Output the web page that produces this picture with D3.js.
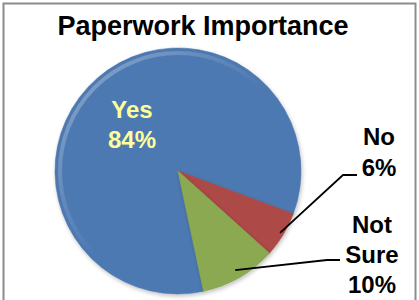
<!DOCTYPE html>
<html><head><meta charset="utf-8">
<script src="https://cdn.jsdelivr.net/npm/d3@7"></script>
<style>html,body{margin:0;padding:0;background:#fff;}svg{display:block;}</style>
</head><body>
<script>
const categories = ["Yes", "No", "Not Sure"];
const values = [84, 6, 10];
const labels = ["84%", "6%", "10%"];
const colors = ["#5789CA", "#C4544F", "#9CC05C"];
const title = "Paperwork Importance";

const W = 419, H = 300;
const svg = d3.select("body").append("svg").attr("width", W).attr("height", H);
svg.append("rect").attr("x", 3.5).attr("y", 3.5).attr("width", 412).attr("height", 310)
  .attr("fill", "#fff").attr("stroke", "#8c8c8c").attr("stroke-width", 2);

const font = "'Liberation Sans', Arial, sans-serif";
svg.append("text").attr("x", 203).attr("y", 35).attr("text-anchor", "middle")
  .attr("font-family", font).attr("font-weight", "bold")
  .attr("font-size", 27).attr("fill", "#000").text(title);

const cx = 178, cy = 171, R = 123;
const start = 168 * Math.PI / 180;
const pie = d3.pie().sort(null).startAngle(start).endAngle(start + 2 * Math.PI);
const arcs = pie(values);
const arc = d3.arc().innerRadius(0).outerRadius(R);

const defs = svg.append("defs");
function shade(c, k) { return d3.color(c).darker(k).formatHex(); }
function light(c, k) { return d3.color(c).brighter(k).formatHex(); }
colors.forEach((c, i) => {
  const g = defs.append("radialGradient").attr("id", "g" + i)
    .attr("gradientUnits", "userSpaceOnUse").attr("cx", cx).attr("cy", cy).attr("r", R);
  g.append("stop").attr("offset", "0%").attr("stop-color", shade(c, 0.15));
  g.append("stop").attr("offset", "10%").attr("stop-color", c);
  g.append("stop").attr("offset", "88%").attr("stop-color", c);
  g.append("stop").attr("offset", "94%").attr("stop-color", light(c, 0.3));
  g.append("stop").attr("offset", "100%").attr("stop-color", shade(c, 0.35));
});
const f = defs.append("filter").attr("id", "sh").attr("x", "-20%").attr("y", "-20%").attr("width", "140%").attr("height", "140%");
f.append("feGaussianBlur").attr("in", "SourceAlpha").attr("stdDeviation", 2);
f.append("feOffset").attr("dx", 1).attr("dy", 2).attr("result", "b");
f.append("feComponentTransfer").append("feFuncA").attr("type", "linear").attr("slope", 0.25);
const m = f.append("feMerge"); m.append("feMergeNode"); m.append("feMergeNode").attr("in", "SourceGraphic");

const gp = svg.append("g").attr("transform", `translate(${cx},${cy})`);
gp.selectAll("path.slice").data(arcs).join("path").attr("class", "slice")
  .attr("d", arc).attr("fill", (d, i) => `url(#g${i})`)
  .attr("stroke", (d, i) => shade(colors[i], 0.5)).attr("stroke-width", 0.6)
  .attr("filter", "url(#sh)");
const hl = defs.append("linearGradient").attr("id", "hl").attr("x1", "0").attr("y1", "0").attr("x2", "1").attr("y2", "1");
hl.append("stop").attr("offset", "0%").attr("stop-color", "#fff").attr("stop-opacity", 0.35);
hl.append("stop").attr("offset", "50%").attr("stop-color", "#fff").attr("stop-opacity", 0);
gp.append("circle").attr("r", R - 5).attr("fill", "none").attr("stroke", "url(#hl)").attr("stroke-width", 4);

svg.append("text").attr("x", 132).attr("y", 118).attr("text-anchor", "middle")
  .attr("font-family", font).attr("font-weight", "bold").attr("font-size", 24).attr("fill", "#FFFF99").text(categories[0]);
svg.append("text").attr("x", 132).attr("y", 148).attr("text-anchor", "middle")
  .attr("font-family", font).attr("font-weight", "bold").attr("font-size", 24).attr("fill", "#FFFF99").text(labels[0]);

function lbl(lines, x, ys) {
  lines.forEach((t, i) => svg.append("text").attr("x", x).attr("y", ys[i]).attr("text-anchor", "middle")
    .attr("font-family", font).attr("font-weight", "bold").attr("font-size", 24).attr("fill", "#000").text(t));
}
lbl([categories[1], labels[1]], 379, [145, 176]);
lbl(["Not", "Sure", labels[2]], 372, [233, 263, 293]);

function pt(a, r) { const m = (a.startAngle + a.endAngle) / 2; return [cx + r * Math.sin(m), cy - r * Math.cos(m)]; }
const p1 = pt(arcs[1], R * 0.97);
svg.append("polyline").attr("points", [p1, [343, 175], [357, 175]].map(p => p.join(",")).join(" "))
  .attr("fill", "none").attr("stroke", "#000").attr("stroke-width", 1.8);
const p2 = pt(arcs[2], R * 0.93);
svg.append("polyline").attr("points", [p2, [327, 260], [340, 260]].map(p => p.join(",")).join(" "))
  .attr("fill", "none").attr("stroke", "#000").attr("stroke-width", 1.8);
</script>
</body></html>
